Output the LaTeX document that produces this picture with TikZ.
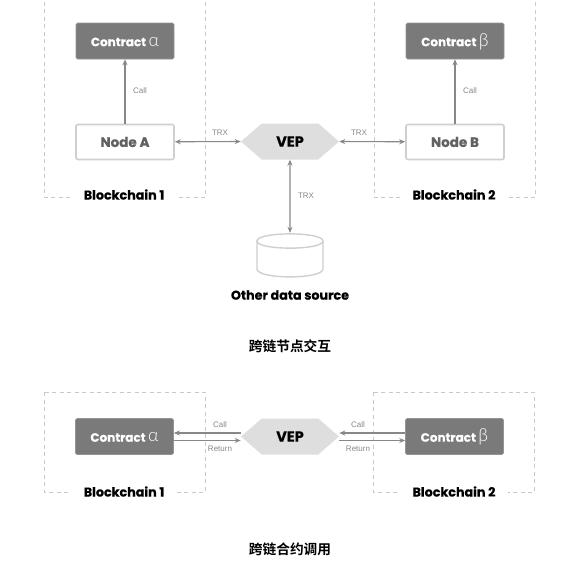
\documentclass[tikz,border=0pt]{standalone}
\usepackage{fontspec}
\setmainfont{Poppins}[BoldFont={Poppins Bold},BoldFeatures={FakeBold=0.5}]
\newfontfamily\labelfont{Liberation Sans}
\newfontfamily\gkfont{Lato Light}
\newfontfamily\cjkfont{Noto Sans CJK SC}[BoldFont={Noto Sans CJK SC Bold}]
\usetikzlibrary{arrows.meta,shapes.symbols}
\definecolor{lineg}{HTML}{888888}
\definecolor{darkbox}{HTML}{7A7A7A}
\definecolor{lightb}{HTML}{CFCFCF}
\definecolor{vepfill}{HTML}{DEDEDE}
\definecolor{dashg}{HTML}{C8C8C8}
\tikzset{
  x=1pt,y=-1pt,
  chain/.style={draw=dashg,line width=.8pt,dash pattern=on 4pt off 3.5pt},
  contract/.style={rectangle,rounded corners=1.5pt,fill=darkbox,draw=darkbox!80!white,line width=.6pt,text=white,minimum width=98pt,minimum height=36pt,inner sep=0pt,text height=11pt,text depth=0.6pt,font=\bfseries\fontsize{12}{14}\selectfont},
  nodebox/.style={rectangle,rounded corners=2pt,fill=white,draw=lightb,line width=1.6pt,text=black!62,minimum width=98pt,minimum height=35pt,inner sep=0pt,font=\bfseries\fontsize{13.5}{15}\selectfont},
  vep/.style={signal,signal to=west and east,signal pointer angle=82,fill=vepfill,draw=none,minimum width=98pt,minimum height=36pt,inner sep=0pt,text=black,font=\bfseries\fontsize{14.5}{16}\selectfont},
  caption/.style={text=black,inner sep=0pt,font=\bfseries\fontsize{12.7}{14}\selectfont},
  chainlabel/.style={caption,fill=white,inner xsep=13pt,inner ysep=1pt},
  title/.style={text=black,inner sep=0pt,font=\cjkfont\bfseries\fontsize{13.7}{15}\selectfont},
  lbl/.style={text=lineg,inner sep=0pt,font=\labelfont\fontsize{8}{10}\selectfont},
  conn/.style={draw=lineg,line width=1.1pt},
  one/.style={conn,-{Stealth[length=6pt,width=5pt]}},
  both/.style={conn,{Stealth[length=6pt,width=5pt]}-{Stealth[length=6pt,width=5pt]}},
  dbline/.style={draw=lightb,line width=1.4pt},
  dbbox/.style={rectangle,draw=none,minimum width=66pt,minimum height=44pt,inner sep=0pt}
}
\newcommand{\gk}[1]{\raisebox{0pt}[0pt][0pt]{\gkfont\mdseries\fontsize{18}{18}\selectfont #1}}
\begin{document}
\begin{tikzpicture}
\useasboundingbox (0,0) rectangle (586,581);
\fill[white] (0,0) rectangle (586,581);
% dashed frames
\draw[chain] (44,-6) -- (44,197) -- (205,197) -- (205,-6);
\draw[chain] (374,-6) -- (374,197) -- (535,197) -- (535,-6);
\draw[chain] (44,392) rectangle (205,492);
\draw[chain] (373,392) rectangle (534,492);
% top
\node[contract] (ca) at (125,41) {Contract \gk{α}};
\node[contract] (cb) at (455,41) {Contract \gk{β}};
\node[nodebox] (na) at (125,142) {Node A};
\node[nodebox] (nb) at (455,142) {Node B};
\node[vep] (v1) at (290,141.5) {VEP};
\node[dbbox] (ds) at (290,255) {};
% cylinder
\draw[dbline] (257,241) -- (257,269) .. controls (257,279.5) and (323,279.5) .. (323,269) -- (323,241);
\draw[dbline] (257,241) .. controls (257,231.5) and (323,231.5) .. (323,241) .. controls (323,250.5) and (257,250.5) .. (257,241) -- cycle;
\node[chainlabel] (b1) at (124,194.5) {Blockchain 1};
\node[chainlabel] (b2) at (454,194.5) {Blockchain 2};
\node[caption] (other) at (290,295) {Other data source};
\node[title] (t1) at (290,346.5) {跨链节点交互};
\draw[one] (na) -- (ca);
\draw[one] (nb) -- (cb);
\draw[both] (na) -- (v1.west);
\draw[both] (nb) -- (v1.east);
\draw[both] (v1) -- (ds.north);
\node[lbl] (l1) at (140,91) {Call};
\node[lbl] (l2) at (470,91) {Call};
\node[lbl] (l3) at (220,133) {TRX};
\node[lbl] (l4) at (359,133) {TRX};
\node[lbl] (l5) at (306,196) {TRX};
% bottom
\node[contract] (cc) at (124.5,436.5) {Contract \gk{α}};
\node[contract] (cd) at (454.5,436.5) {Contract \gk{β}};
\node[vep] (v2) at (290,436.5) {VEP};
\node[chainlabel] (b3) at (124,491.5) {Blockchain 1};
\node[chainlabel] (b4) at (454,491.5) {Blockchain 2};
\node[title] (t2) at (290,549) {跨链合约调用};
\draw[one] (v2.west |- 0,433) -- (cc.east |- 0,433);
\draw[one] (cc.east |- 0,440.5) -- (v2.west |- 0,440.5);
\draw[one] (cd.west |- 0,433) -- (v2.east |- 0,433);
\draw[one] (v2.east |- 0,440.5) -- (cd.west |- 0,440.5);
\node[lbl] (l6) at (220,425) {Call};
\node[lbl] (l7) at (220,449) {Return};
\node[lbl] (l8) at (358,425) {Call};
\node[lbl] (l9) at (358,449) {Return};
\end{tikzpicture}
\end{document}
